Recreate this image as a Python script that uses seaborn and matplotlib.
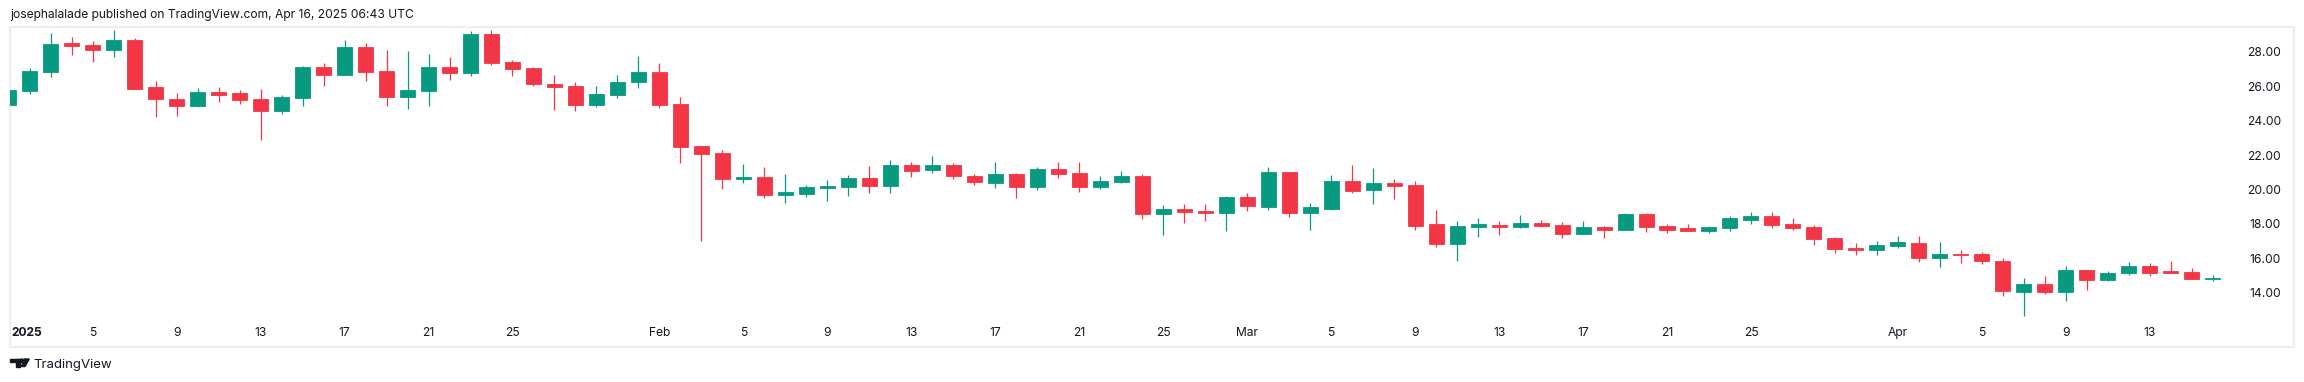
import seaborn as sns
import matplotlib.pyplot as plt
import matplotlib.dates as mdates
from matplotlib.patches import Polygon, Ellipse, Rectangle
import pandas as pd

# Daily candles, Jan 1 - Apr 16 2025
dates = pd.date_range("2025-01-01", "2025-04-16", freq="D")

opens = [24.90, 25.73, 26.84, 28.52, 28.39, 28.10, 28.68, 25.95, 25.25, 24.84,
         25.66, 25.60, 25.25, 24.55, 25.31, 27.11, 26.64, 28.27, 26.88, 25.37,
         25.73, 27.11, 26.78, 29.03, 27.40, 27.05, 26.12, 26.01, 24.92, 25.48,
         26.26, 26.82, 24.96, 22.52, 22.11, 20.62, 20.72, 19.69, 19.75, 20.10,
         20.16, 20.66, 20.22, 21.42, 21.14, 21.42, 20.78, 20.39, 20.89, 20.16,
         21.18, 20.95, 20.16, 20.45, 20.78, 18.59, 18.86, 18.74, 18.65, 19.56,
         19.00, 21.01, 18.65, 18.86, 20.49, 19.96, 20.37, 20.25, 17.99, 16.85,
         17.83, 17.93, 17.83, 18.05, 17.93, 17.43, 17.81, 17.66, 18.57, 17.87,
         17.76, 17.60, 17.76, 18.24, 18.45, 17.99, 17.81, 17.18, 16.60, 16.50,
         16.73, 16.88, 16.03, 16.25, 16.25, 15.84, 14.06, 14.50, 14.06, 15.32,
         14.75, 15.16, 15.55, 15.26, 15.20, 14.81]
highs = [25.77, 27.05, 29.10, 28.87, 28.62, 29.26, 28.79, 26.30, 25.60, 25.89,
         25.95, 25.77, 25.83, 25.48, 27.17, 27.34, 28.68, 28.50, 28.10, 28.04,
         27.86, 27.69, 29.20, 29.26, 27.52, 27.11, 26.64, 26.24, 26.01, 26.64,
         27.75, 27.34, 25.37, 22.52, 22.29, 21.47, 21.30, 20.89, 20.25, 20.54,
         20.83, 21.36, 21.71, 21.59, 21.94, 21.53, 20.89, 21.59, 20.95, 21.30,
         21.59, 21.59, 20.78, 21.07, 20.89, 19.09, 19.15, 19.15, 19.61, 19.79,
         21.30, 21.01, 19.21, 20.83, 21.42, 21.24, 20.60, 20.49, 18.80, 18.16,
         18.34, 18.16, 18.51, 18.22, 18.10, 18.16, 17.89, 18.63, 18.63, 17.99,
         17.99, 17.87, 18.45, 18.69, 18.69, 18.34, 17.93, 17.23, 16.88, 17.00,
         17.29, 17.31, 16.94, 16.48, 16.36, 16.01, 14.85, 14.97, 15.55, 15.32,
         15.26, 15.78, 15.72, 15.84, 15.43, 15.03]
lows = [24.90, 25.54, 26.53, 27.81, 27.40, 27.69, 25.83, 24.20, 24.26, 24.79,
        25.08, 24.96, 22.87, 24.38, 24.84, 26.01, 26.64, 26.30, 24.84, 24.67,
        24.84, 26.35, 26.61, 27.24, 26.61, 26.02, 24.61, 24.55, 24.79, 25.31,
        25.89, 24.73, 21.53, 17.02, 20.02, 20.37, 19.50, 19.23, 19.58, 19.34,
        19.63, 19.81, 19.81, 20.74, 20.97, 20.62, 20.27, 20.10, 19.52, 19.98,
        20.68, 19.87, 20.04, 20.39, 18.30, 17.37, 18.07, 18.18, 17.60, 18.76,
        18.82, 18.41, 17.66, 18.80, 19.79, 19.15, 19.44, 17.66, 16.65, 15.86,
        17.25, 17.37, 17.78, 17.81, 17.19, 17.43, 17.19, 17.66, 17.54, 17.48,
        17.60, 17.48, 17.60, 18.01, 17.76, 17.64, 16.77, 16.32, 16.21, 16.21,
        16.61, 15.80, 15.51, 15.74, 15.68, 13.83, 12.66, 13.94, 13.53, 14.17,
        14.70, 15.03, 14.99, 15.16, 14.81, 14.70]
closes = [25.77, 26.88, 28.45, 28.35, 28.10, 28.68, 25.83, 25.25, 24.84, 25.66,
          25.48, 25.19, 24.55, 25.37, 27.11, 26.64, 28.27, 26.84, 25.37, 25.77,
          27.11, 26.78, 29.03, 27.36, 27.01, 26.14, 25.97, 24.92, 25.54, 26.24,
          26.82, 24.92, 22.48, 22.07, 20.62, 20.72, 19.69, 19.85, 20.14, 20.20,
          20.66, 20.22, 21.42, 21.09, 21.42, 20.80, 20.45, 20.89, 20.16, 21.18,
          20.91, 20.16, 20.49, 20.78, 18.59, 18.86, 18.70, 18.65, 19.56, 19.05,
          21.01, 18.65, 18.98, 20.49, 19.91, 20.37, 20.22, 17.89, 16.85, 17.87,
          17.99, 17.83, 18.05, 17.87, 17.43, 17.81, 17.66, 18.57, 17.83, 17.66,
          17.60, 17.81, 18.34, 18.45, 17.93, 17.76, 17.14, 16.56, 16.50, 16.77,
          16.94, 16.03, 16.25, 16.19, 15.86, 14.12, 14.50, 14.06, 15.32, 14.75,
          15.14, 15.55, 15.16, 15.16, 14.81, 14.87]

price_ticks = [14, 16, 18, 20, 22, 24, 26, 28]
date_ticks = ["2025-01-05", "2025-01-09", "2025-01-13", "2025-01-17", "2025-01-21",
              "2025-01-25", "2025-02-01", "2025-02-05", "2025-02-09", "2025-02-13",
              "2025-02-17", "2025-02-21", "2025-02-25", "2025-03-01", "2025-03-05",
              "2025-03-09", "2025-03-13", "2025-03-17", "2025-03-21", "2025-03-25",
              "2025-04-01", "2025-04-05", "2025-04-09", "2025-04-13"]
date_labels = ["5", "9", "13", "17", "21", "25", "Feb", "5", "9", "13", "17", "21",
               "25", "Mar", "5", "9", "13", "17", "21", "25", "Apr", "5", "9", "13"]

df = pd.DataFrame({"date": dates, "open": opens, "high": highs,
                   "low": lows, "close": closes})
df["up"] = df["close"] >= df["open"]

UP = "#089981"
DOWN = "#F23645"
TEXT = "#131722"
FRAME = "#EEEEEE"

sns.set_theme(style="white")
plt.rcParams["font.family"] = ["Inter", "DejaVu Sans"]

W, H = 2304, 382
fig = plt.figure(figsize=(W / 100, H / 100), dpi=100)
fig.patch.set_facecolor("white")
ax = fig.add_axes([10 / W, 35 / H, (2294 - 10) / W, 320 / H])

colors = [UP if u else DOWN for u in df["up"]]
ax.vlines(df["date"], df["low"], df["high"], colors=colors, linewidth=0.9, zorder=2)
body_bottom = df[["open", "close"]].min(axis=1)
body_height = (df["close"] - df["open"]).abs()
ax.bar(df["date"], body_height, bottom=body_bottom, width=0.715,
       color=colors, edgecolor=colors, linewidth=0.6, zorder=3)

start = df["date"].iloc[0]
ax.set_xlim(start + pd.Timedelta(days=0.062), start + pd.Timedelta(days=108.87))
ax.set_ylim(10.84, 29.44)

# date labels sit inside the frame
ax.set_xticks(pd.to_datetime(date_ticks))
ax.set_xticklabels(date_labels, va="center", fontsize=8.7, color=TEXT)
ax.tick_params(axis="x", length=0, pad=-10.1)
ax.annotate("2025", xy=(mdates.date2num(start), 14 / 320),
            xycoords=("data", "axes fraction"), xytext=(3, 0),
            textcoords="offset pixels", ha="left", va="center",
            fontsize=8.7, fontweight="bold", color=TEXT, annotation_clip=False)

# price scale inside the frame on the right
ax.yaxis.tick_right()
ax.set_yticks(price_ticks)
ax.set_yticklabels([f"{p:.2f}" for p in price_ticks], ha="right",
                   fontsize=8.7, color=TEXT)
ax.tick_params(axis="y", length=0, pad=-9.4)

for s in ax.spines.values():
    s.set_color(FRAME)
    s.set_linewidth(1.5)
ax.grid(False)

fig.text(10 / W, 1 - 15 / H,
         "josephalalade published on TradingView.com, Apr 16, 2025 06:43 UTC",
         ha="left", va="center", fontsize=8.7, color=TEXT)

# little TradingView logo + wordmark at the bottom
def px(x, y):
    return (x / W, 1 - y / H)

tf = fig.transFigure
fig.add_artist(Rectangle(px(10, 362.4), 9.5 / W, 3.4 / H, color=TEXT, transform=tf))
fig.add_artist(Rectangle(px(15.5, 366.5), 4 / W, 7.5 / H, color=TEXT, transform=tf))
fig.add_artist(Ellipse(px(21.9, 360.7), 3.4 / W, 3.4 / H, color=TEXT, transform=tf))
fig.add_artist(Polygon([px(24.5, 359), px(29.3, 359), px(25.0, 366.5), px(21.3, 366.5)],
                       closed=True, color=TEXT, transform=tf))
fig.text(33 / W, 1 - 365 / H, "TradingView", ha="left", va="center",
         fontsize=9.5, color=TEXT)

fig.savefig("out.png", dpi=100, facecolor="white")
